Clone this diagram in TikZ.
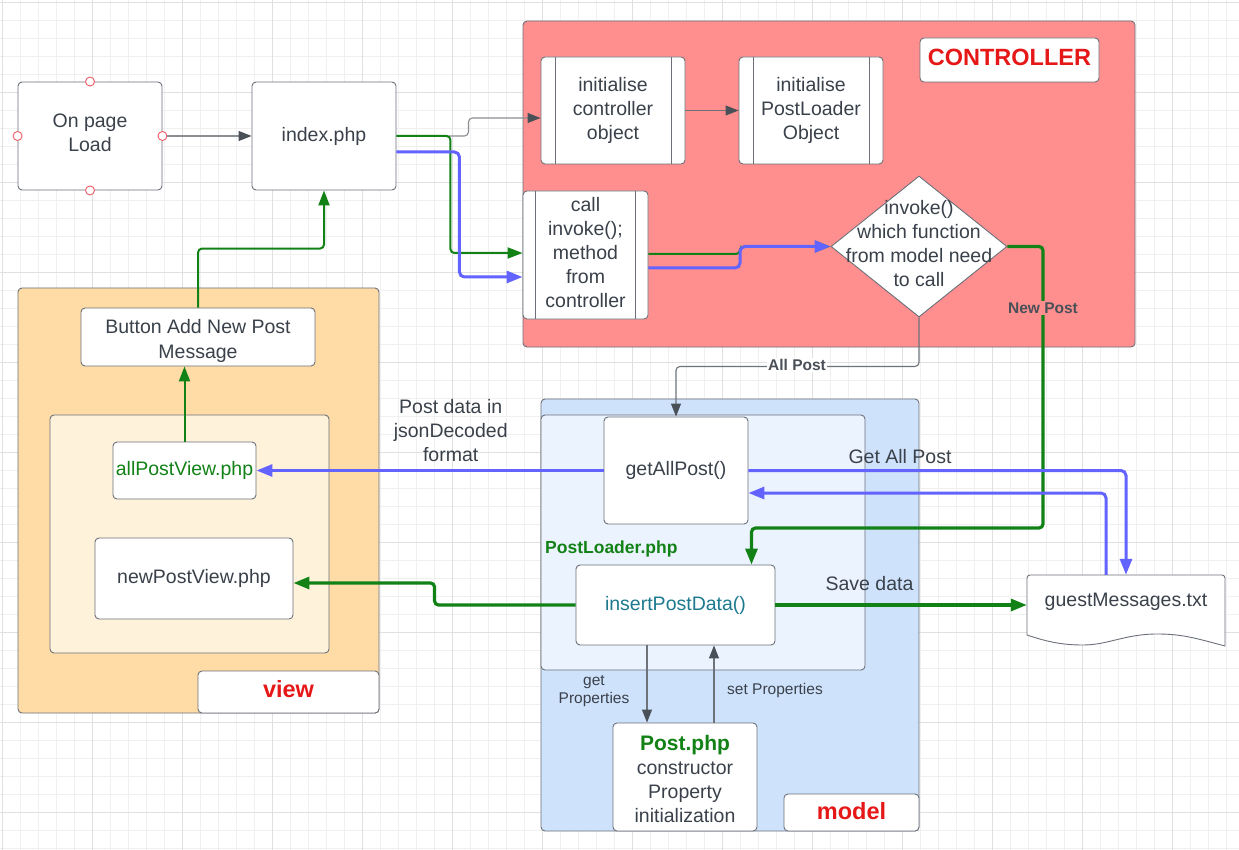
\documentclass[tikz,border=0pt]{standalone}
\usepackage{fontspec}
\setmainfont{Liberation Sans}
\usetikzlibrary{arrows.meta,shapes.geometric,calc}
\definecolor{txt}{HTML}{3A414A}
\definecolor{boxc}{HTML}{6B7079}
\definecolor{lgray}{HTML}{8A8D92}
\definecolor{dgray}{HTML}{4A5058}
\definecolor{grn}{HTML}{128216}
\definecolor{blu}{HTML}{6363FF}
\definecolor{ctrlred}{HTML}{FF8F8F}
\definecolor{redtxt}{HTML}{E61717}
\definecolor{viewfill}{HTML}{FFDBA6}
\definecolor{viewin}{HTML}{FFF2DB}
\definecolor{modelfill}{HTML}{CFE2FC}
\definecolor{modelin}{HTML}{EBF3FE}
\definecolor{teal}{HTML}{1D7A8E}
\definecolor{gridminor}{HTML}{F0F0F0}
\definecolor{gridmajor}{HTML}{E0E0E0}
\definecolor{ptred}{HTML}{F05A64}
\newcommand\fsN{\fontsize{19.5}{24}\selectfont}
\newcommand\fsL{\fontsize{23.5}{28}\selectfont\bfseries}
\newcommand\fsS{\fontsize{15.5}{18.5}\selectfont}
\begin{document}
\begin{tikzpicture}[x=1pt,y=-1pt,
  box/.style={draw=boxc, fill=white, rounded corners=4pt, line width=0.9pt, align=center, text=txt, font=\fsN, inner sep=0pt},
  cont/.style={draw=boxc, rounded corners=4pt, line width=0.9pt, inner sep=0pt},
  lbl/.style={draw=boxc, fill=white, rounded corners=4pt, line width=0.9pt, inner sep=0pt},
  lbltext/.style={text=redtxt, font=\fsL, inner sep=0pt},
  plain/.style={align=center, text=txt, font=\fsN, inner sep=1pt},
  small/.style={align=center, text=txt, font=\fsS, inner sep=1pt},
  gline/.style={draw=lgray, line width=1.1pt, -{Triangle[length=13pt,width=10pt,fill=dgray,color=dgray]}},
  dline/.style={draw=dgray!80, line width=1.1pt, -{Triangle[length=13pt,width=10pt,fill=dgray,color=dgray]}},
  gthin/.style={draw=grn, line width=2pt, rounded corners=4pt, -{Triangle[length=15pt,width=11pt]}},
  gthick/.style={draw=grn, line width=3.2pt, rounded corners=4pt, -{Triangle[length=16pt,width=12pt]}},
  bl/.style={draw=blu, line width=3pt, rounded corners=5pt, -{Triangle[length=16pt,width=12pt]}},
  cpt/.style={circle, draw=ptred, fill=white, line width=0.9pt, minimum size=9pt, inner sep=0pt}
]
\useasboundingbox (0,0) rectangle (1239,850);
\fill[white] (0,0) rectangle (1239,850);
% grid
\foreach \gx in {2,20,...,1238} \draw[gridminor, line width=0.8pt] (\gx,0) -- (\gx,850);
\foreach \gy in {2,20,...,848} \draw[gridminor, line width=0.8pt] (0,\gy) -- (1239,\gy);
\foreach \gx in {2,92,...,1238} \draw[gridmajor, line width=0.9pt] (\gx,0) -- (\gx,850);
\foreach \gy in {2,92,...,848} \draw[gridmajor, line width=0.9pt] (0,\gy) -- (1239,\gy);

% ---------- containers ----------
\node[cont, fill=ctrlred, minimum width=612pt, minimum height=326pt] (ctrl) at (829,184) {};
\node[lbl, minimum width=179pt, minimum height=44pt] (ctrllbl) at (1009.5,60) {};
\node[lbltext] (ctrltext) at (1009.5,57.5) {CONTROLLER};

\node[cont, fill=viewfill, minimum width=361pt, minimum height=425pt] (viewout) at (198.5,500.5) {};
\node[cont, fill=viewin, minimum width=279pt, minimum height=238pt] (viewinner) at (189.5,534) {};
\node[lbl, minimum width=181pt, minimum height=42pt] (viewlbl) at (288.5,692) {};
\node[lbltext] (viewtext) at (288.5,689) {view};

\node[cont, fill=modelfill, minimum width=378pt, minimum height=432pt] (modelout) at (730,615) {};
\node[cont, fill=modelin, minimum width=324pt, minimum height=255pt] (modelinner) at (703,542.5) {};
\node[lbl, minimum width=135pt, minimum height=37pt] (modellbl) at (851.5,812.5) {};
\node[lbltext] (modeltext) at (851.5,811) {model};
\node[anchor=west, text=grn, font=\fontsize{17.5}{21}\selectfont\bfseries, inner sep=0pt] (plname) at (545,549) {PostLoader.php};

% ---------- boxes ----------
\node[box, minimum width=144pt, minimum height=108pt] (load) at (90,136) {};
\node[plain] (loadtext) at (90,133) {On page\\Load};
\node[cpt] (ptt) at (load.north) {};
\node[cpt] (ptb) at (load.south) {};
\node[cpt] (ptl) at (load.west) {};
\node[cpt] (ptr) at (load.east) {};
\node[box, minimum width=144pt, minimum height=108pt] (idx) at (324,136) {index.php};

\node[box, minimum width=144pt, minimum height=107pt] (init1) at (613,110.5) {initialise\\controller\\object};
\node[box, minimum width=144pt, minimum height=107pt] (init2) at (811,110.5) {initialise\\PostLoader\\Object};
\node[box, minimum width=125pt, minimum height=128pt] (call) at (585.5,255) {};
\node[plain] (calltext) at (585.5,252.5) {call\\invoke();\\method\\from\\controller};
\foreach \n/\d in {init1/14.5,init2/14.5,call/13}{
  \draw[boxc, line width=0.9pt] ($(\n.north west)+(\d,0)$) -- ($(\n.south west)+(\d,0)$);
  \draw[boxc, line width=0.9pt] ($(\n.north east)+(-\d,0)$) -- ($(\n.south east)+(-\d,0)$);
}
\node[draw=boxc, fill=white, diamond, line width=0.9pt, minimum width=176pt, minimum height=141pt, inner sep=0pt] (dia) at (919,246.5) {};
\node[plain] (diatext) at (919,244) {invoke()\\which function\\from model need\\to call};

\node[box, minimum width=144pt, minimum height=107pt] (getall) at (676,470.5) {getAllPost()};
\node[box, minimum width=199pt, minimum height=80pt, text=teal] (insert) at (675.5,605) {insertPostData()};
\node[box, minimum width=144pt, minimum height=108pt] (post) at (685,777) {};
\node[plain] (posttext) at (685,778.5) {{\fontsize{21}{24}\selectfont\bfseries\color{grn}Post.php}\\constructor\\Property\\initialization};

\node[box, minimum width=234pt, minimum height=58pt] (button) at (198,337) {};
\node[plain, font=\fontsize{19.5}{25}\selectfont] (buttontext) at (198,340.5) {Button Add New Post\\Message};
\node[box, minimum width=143pt, minimum height=57pt, text=grn] (allpv) at (184.5,470.5) {allPostView.php};
\node[box, minimum width=198pt, minimum height=81pt] (newpv) at (194,578.5) {newPostView.php};

% document shape
\draw[boxc, line width=0.9pt, fill=white] (1027,635) [rounded corners=3pt] -- (1027,575) -- (1225,575) [sharp corners] -- (1225,646)
  .. controls (1195,638) and (1182,634) .. (1157,634)
  .. controls (1125,634) and (1108,645) .. (1083,645)
  .. controls (1060,645) and (1045,641) .. (1027,635) -- cycle;
\node[plain, minimum width=198pt, minimum height=58pt, inner sep=0pt] (doc) at (1126,604) {};
\node[plain] (doctext) at (1126,602) {guestMessages.txt};

% ---------- connectors ----------
\draw[gline] (ptr) -- (idx.west);
\draw[gline, rounded corners=4pt] (idx.east) -- ++(72,0) |- ($(init1.west)+(0,7.5)$);
\draw[gthin] (idx.east) -- ++(54,0) |- ($(call.west)+(0,-2)$);
\draw[bl] ($(idx.east)+(0,16)$) -- ++(63,0) |- ($(call.west)+(0,22)$);
\draw[dline] (init1.east) -- (init2.west);
\draw[gthin] ($(call.east)+(0,-1)$) -- (740,254) |- (dia.west);
\draw[bl] ($(call.east)+(0,13)$) -- (740,268) |- (dia.west);

\draw[gthick] (dia.east) -| (1043,528) -| ($(insert.north)+(76,0)$);
\node[font=\fsS\bfseries, text=dgray, fill=ctrlred, inner sep=2pt] (newpostlbl) at (1043,308) {New Post};

\draw[dline, rounded corners=4pt] (dia.south) -- ++(0,49) -| (getall.north);
\node[font=\fsS\bfseries, text=dgray, fill=white, inner sep=1.5pt] (allpostlbl) at (797,365) {All Post};

\draw[bl] (getall.east) -| (doc.north);
\node[plain] (getalllbl) at (900,457) {Get All Post};
\draw[bl] ($(doc.north)+(-20,0)$) |- ($(getall.east)+(0,22.5)$);

\draw[gthick] (insert.east) -- (insert.east -| doc.west);
\node[plain] (savelbl) at (869.5,584) {Save data};

\draw[bl] (getall.west) -- (allpv.east);
\node[plain] (jsonlbl) at (450.7,431) {Post data in\\jsonDecoded\\format};

\draw[gthick] (insert.west) -- ++(-141,0) |- ($(newpv.east)+(0,4.5)$);

\draw[gthin] (allpv.north) -- (allpv.north |- button.south);
\draw[gthin] (button.north) -- ++(0,-59) -| (idx.south);

\coordinate (gp) at ($(insert.south)+(-28.5,0)$);
\coordinate (sp) at ($(post.north)+(29,0)$);
\draw[dline] (gp) -- (gp |- post.north);
\draw[dline] (sp) -- (sp |- insert.south);
\node[small] (getprop) at (594,691) {get\\Properties};
\node[small] (setprop) at (775,690) {set Properties};
\end{tikzpicture}
\end{document}
